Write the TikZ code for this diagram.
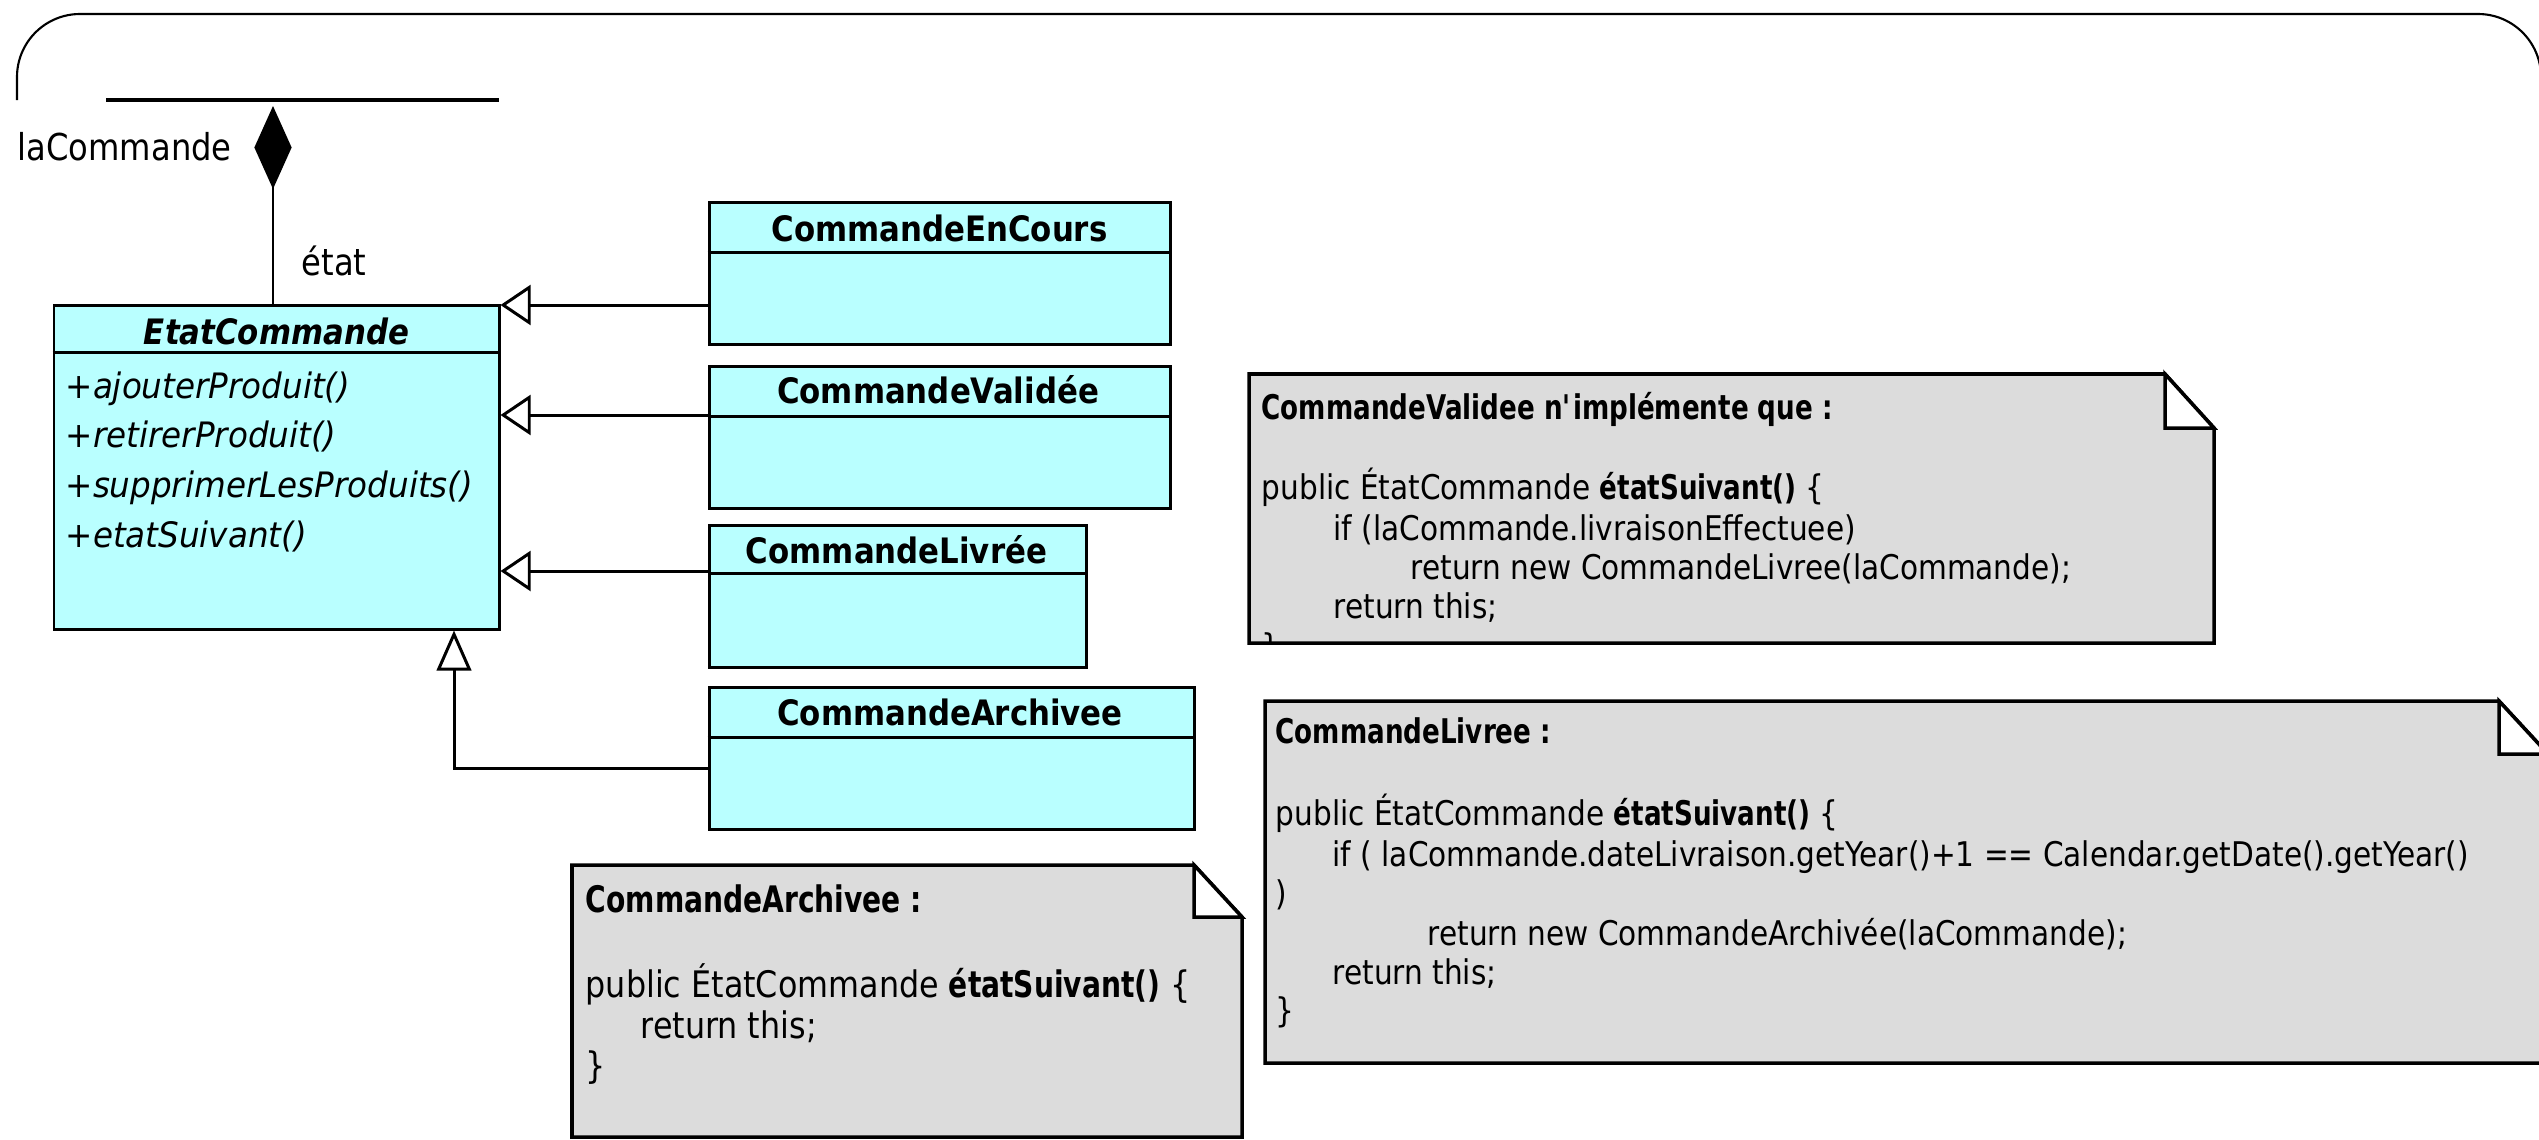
\documentclass[tikz,border=0pt]{standalone}
\usepackage{fontspec}
\setmainfont{DejaVu Sans}
% condensed variants of the same family for the different text roles
\newfontfamily\plainfont[FakeStretch=0.87]{DejaVu Sans}
\newfontfamily\notebold[FakeStretch=0.77]{DejaVu Sans}
\newfontfamily\titlefont[FakeStretch=0.88]{DejaVu Sans}
\newfontfamily\opfont[FakeStretch=0.93]{DejaVu Sans}
\usetikzlibrary{arrows.meta,fit}
\definecolor{classfill}{HTML}{B9FFFF}
\definecolor{notefill}{HTML}{DCDCDC}
\newcommand{\bsig}[1]{{\notebold\bfseries #1}}

\tikzset{
  uml/.style={line width=0.85pt, draw=black},
  classbox/.style={draw=black, fill=classfill, line width=0.85pt, inner sep=0pt},
  notebox/.style={draw=black, fill=notefill, line width=1pt, line join=miter},
  foldcorner/.style={draw=black, fill=white, line width=1pt},
  ctitle/.style={font=\titlefont\bfseries\fontsize{9.96pt}{12pt}\selectfont, inner sep=0pt, anchor=base},
  optext/.style={font=\opfont\itshape\fontsize{9.96pt}{12pt}\selectfont, inner sep=0pt, anchor=base west},
  lbl/.style={font=\plainfont\fontsize{10.53pt}{12pt}\selectfont, inner sep=0pt, anchor=base west},
  ntext/.style={font=\plainfont\fontsize{9.67pt}{12pt}\selectfont, inner sep=0pt, anchor=base west},
  nhead/.style={font=\notebold\bfseries\fontsize{9.67pt}{12pt}\selectfont, inner sep=0pt, anchor=base west},
  ntextB/.style={font=\plainfont\fontsize{10.39pt}{12pt}\selectfont, inner sep=0pt, anchor=base west},
  nheadB/.style={font=\notebold\bfseries\fontsize{10.39pt}{12pt}\selectfont, inner sep=0pt, anchor=base west},
  inhH/.style={uml, -{Triangle[open, length=8.6pt, width=11.4pt]}},
  inhV/.style={uml, -{Triangle[open, length=11.4pt, width=9.8pt]}},
  compo/.style={uml, -{Diamond[length=23.6pt, width=10.6pt]}},
}

\begin{document}
\begin{tikzpicture}[x=0.01cm, y=-0.01cm]
\useasboundingbox (0,0) rectangle (2539,1139);
\clip (0,0) rectangle (2539,1139);
\fill[white] (0,0) rectangle (2539,1139);

% outer rounded frame
\draw[line width=0.6pt, rounded corners=0.63cm] (17,100) -- (17,14) -- (2541,14) -- (2541,400);

% bottom edge of the owning class
\draw[line width=1.1pt] (106,100) -- (499,100);
\coordinate (owner) at (273,106);

% ---- classes ----
\node[classbox, fit={(54,305) (499,629)}] (etat) {};
\draw[uml] (etat.west |- 0,352) -- (etat.east |- 0,352);
\node[ctitle, font=\titlefont\bfseries\itshape\fontsize{9.96pt}{12pt}\selectfont] (etat-t) at (276.5,344) {EtatCommande};
\node[optext] (op1) at (65,398) {+ajouterProduit()};
\node[optext] (op2) at (65,447) {+retirerProduit()};
\node[optext] (op3) at (65,497) {+supprimerLesProduits()};
\node[optext] (op4) at (65,547) {+etatSuivant()};

\node[classbox, fit={(709,202) (1170,344)}] (encours) {};
\draw[uml] (encours.west |- 0,252) -- (encours.east |- 0,252);
\node[ctitle] (encours-t) at (939.5,241) {CommandeEnCours};

\node[classbox, fit={(709,366) (1170,508)}] (validee) {};
\draw[uml] (validee.west |- 0,416) -- (validee.east |- 0,416);
\node[ctitle] (validee-t) at (938,403) {CommandeValidée};

\node[classbox, fit={(709,525) (1086,667)}] (livree) {};
\draw[uml] (livree.west |- 0,573) -- (livree.east |- 0,573);
\node[ctitle] (livree-t) at (896.5,563) {CommandeLivrée};

\node[classbox, fit={(709,687) (1194,829)}] (archivee) {};
\draw[uml] (archivee.west |- 0,737) -- (archivee.east |- 0,737);
\node[ctitle] (archivee-t) at (950,725) {CommandeArchivee};

% ---- composition ----
\draw[compo] (etat.north -| owner) -- (owner);
\node[lbl] (lacmd) at (17,160) {laCommande};
\node[lbl] (role) at (301,275) {état};

% ---- generalisations ----
\coordinate (g1) at (0,305);
\coordinate (g2) at (0,415);
\coordinate (g3) at (0,571);
\coordinate (g4) at (454,768);
\draw[inhH] (encours.west |- g1) -- (etat.east |- g1);
\draw[inhH] (validee.west |- g2) -- (etat.east |- g2);
\draw[inhH] (livree.west |- g3) -- (etat.east |- g3);
\draw[inhV] (archivee.west |- g4) -- (g4) -- (etat.south -| g4);

% ---- note: CommandeValidee ----
\draw[notebox] (1249,374) -- (2165,374) -- (2214,428) -- (2214,643) -- (1249,643) -- cycle;
\draw[foldcorner] (2165,374) -- (2165,428) -- (2214,428) -- cycle;
\begin{scope}
\clip (1249,374) rectangle (2214,644);
\node[nhead] (n1-0) at (1261,419) {CommandeValidee n\textquotesingle implémente que :};
\node[ntext] (n1-1) at (1261,499) {public ÉtatCommande \bsig{étatSuivant()} \{};
\node[ntext] (n1-2) at (1333,540) {if (laCommande.livraisonEffectuee)};
\node[ntext] (n1-3) at (1410,579) {return new CommandeLivree(laCommande);};
\node[ntext] (n1-4) at (1333,618) {return this;};
\node[ntext] (n1-5) at (1261,658) {\}};
\end{scope}

% ---- note: CommandeLivree ----
\draw[notebox] (1265,701) -- (2499,701) -- (2548,754) -- (2548,1063) -- (1265,1063) -- cycle;
\draw[foldcorner] (2499,701) -- (2499,754) -- (2548,754) -- cycle;
\node[nhead] (n2-0) at (1275,743) {CommandeLivree :};
\node[ntext] (n2-1) at (1275,825) {public ÉtatCommande \bsig{étatSuivant()} \{};
\node[ntext] (n2-2) at (1332,866) {if ( laCommande.dateLivraison.getYear()+1 == Calendar.getDate().getYear()};
\node[ntext] (n2-3) at (1275,905) {)};
\node[ntext] (n2-4) at (1427,945) {return new CommandeArchivée(laCommande);};
\node[ntext] (n2-5) at (1332,984) {return this;};
\node[ntext] (n2-6) at (1275,1022) {\}};

% ---- note: CommandeArchivee ----
\draw[notebox] (572,865) -- (1194,865) -- (1242,917) -- (1242,1137) -- (572,1137) -- cycle;
\draw[foldcorner] (1194,865) -- (1194,917) -- (1242,917) -- cycle;
\node[nheadB] (n3-0) at (585,912) {CommandeArchivee :};
\node[ntextB] (n3-1) at (585,997) {public ÉtatCommande \bsig{étatSuivant()} \{};
\node[ntextB] (n3-2) at (640,1038) {return this;};
\node[ntextB] (n3-3) at (585,1078) {\}};
\end{tikzpicture}
\end{document}
